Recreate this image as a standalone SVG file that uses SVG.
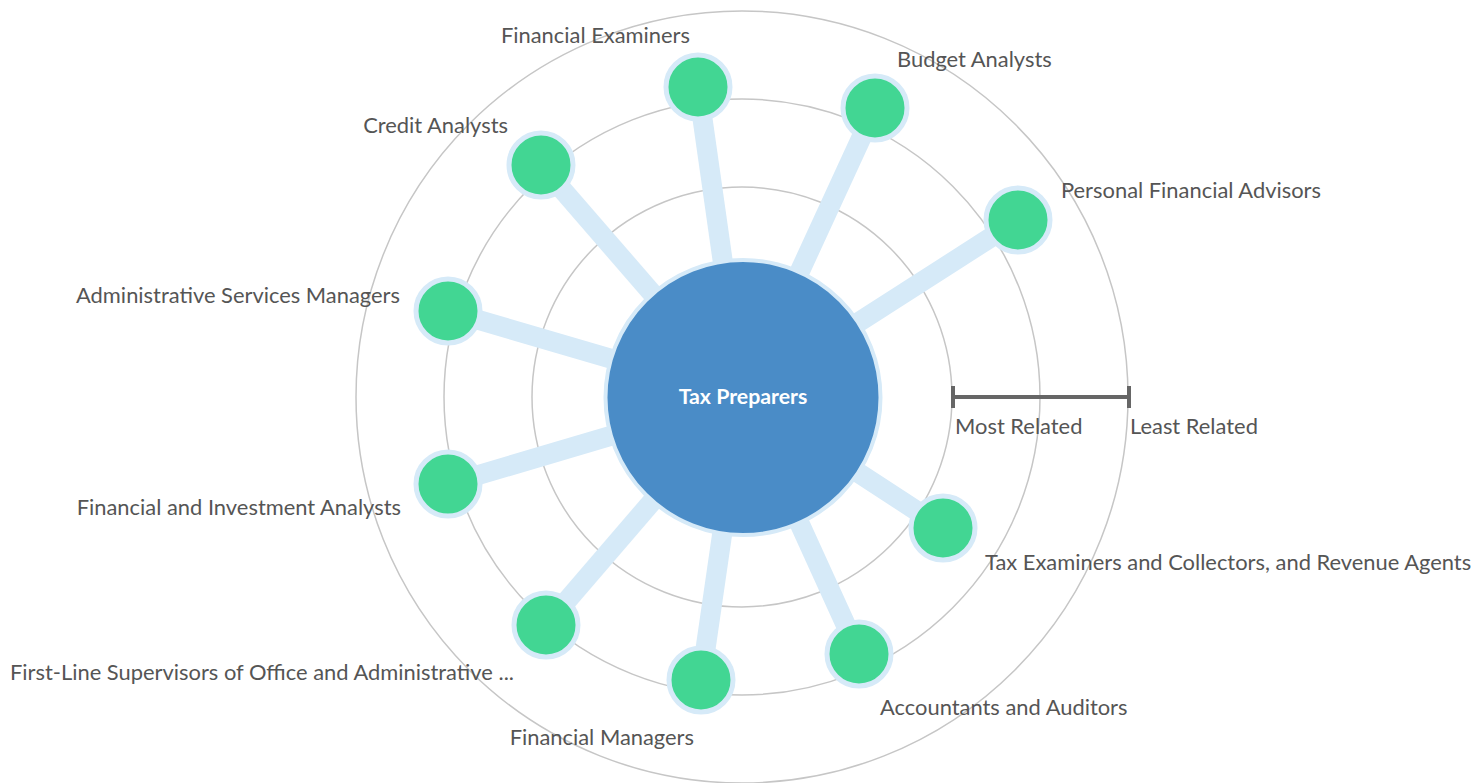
<svg xmlns="http://www.w3.org/2000/svg" width="1471" height="783" viewBox="0 0 1471 783">
<style>
.ring{fill:none;stroke:#c6c6c6;stroke-width:1.5}
.link{stroke:#d6eaf8;stroke-width:20;stroke-linecap:butt}
.node{fill:#42d693;stroke:#d6eaf8;stroke-width:5}
.lbl{font-family:Lato,"Liberation Sans",sans-serif;font-size:21.9px;fill:#555}
.end{text-anchor:end}
</style>
<rect width="1471" height="783" fill="#fff"/>
<g id="rings">
<circle class="ring" cx="742" cy="397" r="210"/>
<circle class="ring" cx="742" cy="397" r="298"/>
<circle class="ring" cx="742" cy="397" r="386"/>
</g>
<g id="connectors">
<line class="link" x1="742" y1="397" x2="698" y2="87"/>
<line class="link" x1="742" y1="397" x2="875" y2="108"/>
<line class="link" x1="742" y1="397" x2="541" y2="165"/>
<line class="link" x1="742" y1="397" x2="1018" y2="220"/>
<line class="link" x1="742" y1="397" x2="448" y2="311"/>
<line class="link" x1="742" y1="397" x2="448" y2="484"/>
<line class="link" x1="742" y1="397" x2="546" y2="625"/>
<line class="link" x1="742" y1="397" x2="701" y2="680"/>
<line class="link" x1="742" y1="397" x2="859" y2="654"/>
<line class="link" x1="742" y1="397" x2="943" y2="528"/>
</g>
<g id="center">
<circle cx="743" cy="397.5" r="137.5" fill="#4a8cc7" stroke="#d6eaf8" stroke-width="4"/>
<text x="743" y="403.5" text-anchor="middle" font-family="Lato,'Liberation Sans',sans-serif" font-size="21.3" font-weight="bold" fill="#fff">Tax Preparers</text>
</g>
<g id="n-financial-examiners"><circle class="node" cx="698" cy="87" r="32"/><text class="lbl end" x="690" y="43">Financial Examiners</text></g>
<g id="n-budget-analysts"><circle class="node" cx="875" cy="108" r="32"/><text class="lbl" x="897" y="67">Budget Analysts</text></g>
<g id="n-credit-analysts"><circle class="node" cx="541" cy="165" r="32"/><text class="lbl end" x="508" y="133">Credit Analysts</text></g>
<g id="n-personal-financial-advisors"><circle class="node" cx="1018" cy="220" r="32"/><text class="lbl" x="1061" y="198">Personal Financial Advisors</text></g>
<g id="n-admin-services-managers"><circle class="node" cx="448" cy="311" r="32"/><text class="lbl end" x="400" y="303">Administrative Services Managers</text></g>
<g id="n-financial-investment-analysts"><circle class="node" cx="448" cy="484" r="32"/><text class="lbl end" x="401" y="515">Financial and Investment Analysts</text></g>
<g id="n-first-line-supervisors"><circle class="node" cx="546" cy="625" r="32"/><text class="lbl end" x="514" y="680">First-Line Supervisors of Office and Administrative ...</text></g>
<g id="n-financial-managers"><circle class="node" cx="701" cy="680" r="32"/><text class="lbl end" x="694" y="745">Financial Managers</text></g>
<g id="n-accountants-auditors"><circle class="node" cx="859" cy="654" r="32"/><text class="lbl" x="880" y="715">Accountants and Auditors</text></g>
<g id="n-tax-examiners"><circle class="node" cx="943" cy="528" r="32"/><text class="lbl" x="985" y="570">Tax Examiners and Collectors, and Revenue Agents</text></g>
<g id="scale">
<line x1="953" y1="397" x2="1129" y2="397" stroke="#666" stroke-width="4"/>
<line x1="953" y1="386" x2="953" y2="408" stroke="#666" stroke-width="4"/>
<line x1="1129" y1="386" x2="1129" y2="408" stroke="#666" stroke-width="4"/>
<text class="lbl" x="955" y="434">Most Related</text>
<text class="lbl" x="1130" y="434">Least Related</text>
</g>
</svg>
